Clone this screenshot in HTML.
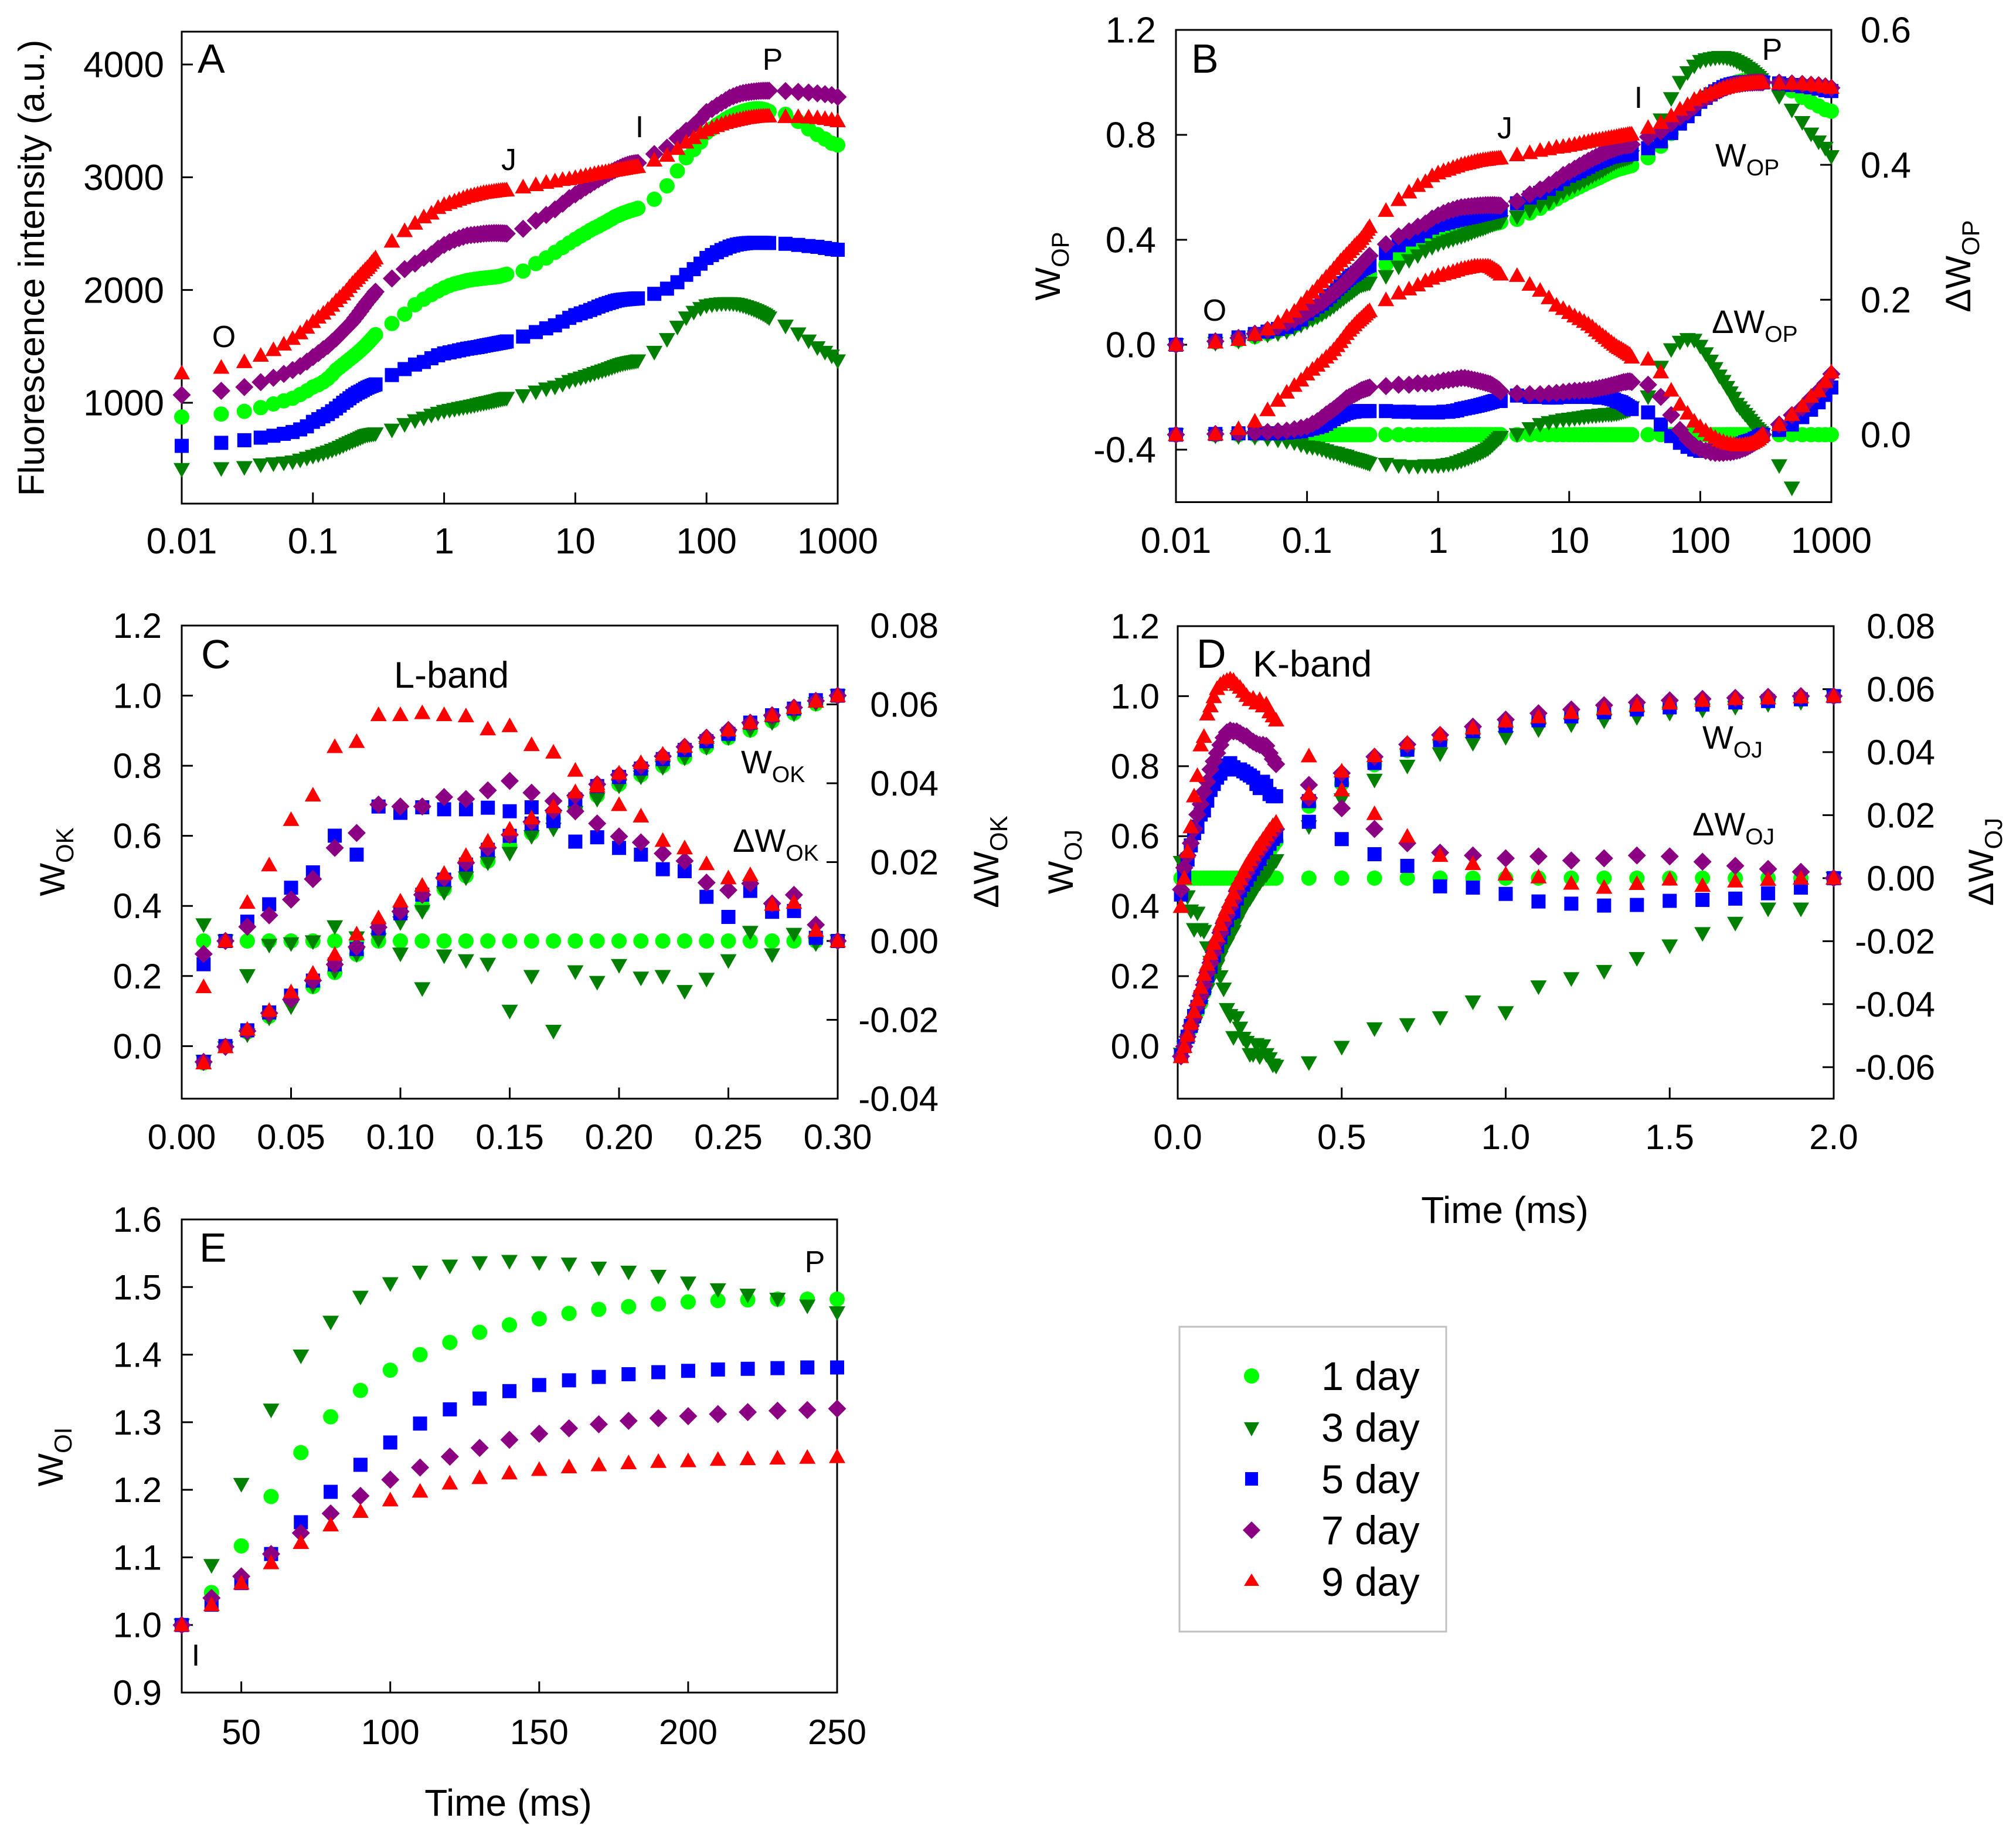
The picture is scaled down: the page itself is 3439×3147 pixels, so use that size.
<!DOCTYPE html>
<html lang="en">
<head>
<meta charset="utf-8">
<title>Chlorophyll fluorescence transients</title>
<style>
html,body{margin:0;padding:0;background:#fff;}
svg{display:block;}
text{font-family:"Liberation Sans",Arial,sans-serif;fill:#000;}
</style>
</head>
<body>
<svg id="figure" xmlns="http://www.w3.org/2000/svg" width="3439" height="3147" viewBox="0 0 3439 3147">
<rect x="0" y="0" width="3439" height="3147" fill="#fff"/>
<g id="plots"></g>

<g>
<text x="337" y="124" font-size="70">A</text>
<text x="382" y="592" font-size="52" text-anchor="middle">O</text>
<text x="868" y="290" font-size="52" text-anchor="middle">J</text>
<text x="1091" y="234" font-size="52" text-anchor="middle">I</text>
<text x="1318" y="119" font-size="52" text-anchor="middle">P</text>
<text transform="translate(75 457) rotate(-90)" font-size="62" text-anchor="middle">Fluorescence intensity (a.u.)</text>
</g>

<g>
<text x="2032" y="124" font-size="70">B</text>
<text x="2072" y="547" font-size="52" text-anchor="middle">O</text>
<text x="2567" y="236" font-size="52" text-anchor="middle">J</text>
<text x="2795" y="184" font-size="52" text-anchor="middle">I</text>
<text x="3023" y="102" font-size="52" text-anchor="middle">P</text>
<text x="2926" y="284" font-size="56">W<tspan font-size="39" dy="15">OP</tspan></text>
<text x="2920" y="568" font-size="56">ΔW<tspan font-size="39" dy="15">OP</tspan></text>
<text transform="translate(1808 454) rotate(-90)" font-size="60" text-anchor="middle">W<tspan font-size="42" dy="15">OP</tspan></text>
<text transform="translate(3361 454) rotate(-90)" font-size="60" text-anchor="middle">ΔW<tspan font-size="42" dy="15">OP</tspan></text>
</g>

<g>
<text x="343" y="1140" font-size="70">C</text>
<text x="672" y="1173" font-size="63">L-band</text>
<text x="1264" y="1319" font-size="56">W<tspan font-size="39" dy="15">OK</tspan></text>
<text x="1250" y="1453" font-size="56">ΔW<tspan font-size="39" dy="15">OK</tspan></text>
<text transform="translate(110 1470) rotate(-90)" font-size="60" text-anchor="middle">W<tspan font-size="42" dy="15">OK</tspan></text>
<text transform="translate(1703 1470) rotate(-90)" font-size="60" text-anchor="middle">ΔW<tspan font-size="42" dy="15">OK</tspan></text>
</g>

<g>
<text x="2041" y="1139" font-size="70">D</text>
<text x="2137" y="1154" font-size="63">K-band</text>
<text x="2904" y="1277" font-size="56">W<tspan font-size="39" dy="15">OJ</tspan></text>
<text x="2887" y="1425" font-size="56">ΔW<tspan font-size="39" dy="15">OJ</tspan></text>
<text transform="translate(1830 1470) rotate(-90)" font-size="60" text-anchor="middle">W<tspan font-size="42" dy="15">OJ</tspan></text>
<text transform="translate(3400 1470) rotate(-90)" font-size="60" text-anchor="middle">ΔW<tspan font-size="42" dy="15">OJ</tspan></text>
<text x="2567" y="2086" font-size="64" text-anchor="middle">Time (ms)</text>
</g>

<g>
<text x="340" y="2152" font-size="70">E</text>
<text x="1390" y="2170" font-size="52" text-anchor="middle">P</text>
<text x="334" y="2841" font-size="52" text-anchor="middle">I</text>
<text transform="translate(107 2485) rotate(-90)" font-size="60" text-anchor="middle">W<tspan font-size="42" dy="15">OI</tspan></text>
<text x="867" y="3097" font-size="64" text-anchor="middle">Time (ms)</text>
</g>

<g>
<rect x="2012" y="2263" width="455" height="520" fill="#fff" stroke="#c0c0c0" stroke-width="3"/>
<g>
<circle cx="2135" cy="2347" r="13" fill="#00ff00"/>
<text x="2254" y="2371" font-size="68.5">1 day</text>
</g>
<g>
<polygon points="2122,2426 2148,2426 2135,2450" fill="#008000"/>
<text x="2254" y="2459" font-size="68.5">3 day</text>
</g>
<g>
<rect x="2124" y="2511" width="22" height="23" fill="#0000ff"/>
<text x="2254" y="2547" font-size="68.5">5 day</text>
</g>
<g>
<polygon points="2135,2595 2150,2610 2135,2625 2120,2610" fill="#8b0082"/>
<text x="2254" y="2634" font-size="68.5">7 day</text>
</g>
<g>
<polygon points="2135,2684 2148,2705 2122,2705" fill="#ff0000"/>
<text x="2254" y="2722" font-size="68.5">9 day</text>
</g>
</g>
</svg>

<script>
// ---------- shared time bases ----------
const timeLong = [
0.01,0.02,0.03,0.04,0.05,0.06,0.07,0.08,0.09,0.10,0.11,0.12,0.13,0.14,0.15,0.16,0.17,0.18,0.19,0.20,0.21,0.22,0.23,0.24,0.25,0.26,0.27,0.28,0.29,0.30,
0.4,0.5,0.6,0.7,0.8,0.9,1.0,1.1,1.2,1.3,1.4,1.5,1.6,1.7,1.8,1.9,2.0,2.1,2.2,2.3,2.4,2.5,2.6,2.7,2.8,2.9,3.0,
4,5,6,7,8,9,10,11,12,13,14,15,16,17,18,19,20,21,22,23,24,25,26,27,28,29,30,
40,50,60,70,80,90,100,110,120,130,140,150,160,170,180,190,200,210,220,230,240,250,260,270,280,290,300,
400,500,600,700,800,900,1000];
const timeOK = [0.01,0.02,0.03,0.04,0.05,0.06,0.07,0.08,0.09,0.10,0.11,0.12,0.13,0.14,0.15,0.16,0.17,0.18,0.19,0.20,0.21,0.22,0.23,0.24,0.25,0.26,0.27,0.28,0.29,0.30];
const timeOJ = [0.01,0.02,0.03,0.04,0.05,0.06,0.07,0.08,0.09,0.10,0.11,0.12,0.13,0.14,0.15,0.16,0.17,0.18,0.19,0.20,0.21,0.22,0.23,0.24,0.25,0.26,0.27,0.28,0.29,0.30,0.4,0.5,0.6,0.7,0.8,0.9,1.0,1.1,1.2,1.3,1.4,1.5,1.6,1.7,1.8,1.9,2.0];
const timeOI = [30,40,50,60,70,80,90,100,110,120,130,140,150,160,170,180,190,200,210,220,230,240,250];

// ---------- Panel A: fluorescence intensity ----------
const fluorDay1 = [874,900,924,957,990,1017,1040,1073,1106,1140,1160,1185,1215,1250,1289,1315,1340,1362,1385,1405,1425,1445,1465,1485,1504,1525,1545,1565,1585,1604,
1703,1786,1869,1919,1959,1992,2019,2040,2055,2065,2075,2085,2090,2095,2098,2102,2105,2108,2110,2113,2115,2118,2120,2125,2130,2135,2140,
2168,2234,2284,2334,2377,2417,2450,2480,2505,2530,2550,2566,2585,2600,2618,2632,2649,2660,2670,2680,2688,2695,2702,2708,2713,2718,2725,
2805,2924,3056,3173,3246,3312,3395,3430,3465,3490,3515,3535,3550,3565,3575,3585,3592,3598,3603,3606,3608,3608,3606,3602,3598,3590,3583,
3558,3495,3429,3379,3339,3302,3286];
const fluorDay3 = [409,416,426,449,459,466,476,492,509,525,538,552,565,579,592,606,620,634,646,658,668,678,688,698,708,713,717,720,723,725,
758,807,841,864,890,907,924,933,942,950,957,963,970,976,983,990,995,1000,1005,1010,1015,1020,1025,1030,1034,1037,1040,
1063,1096,1123,1139,1163,1189,1206,1220,1234,1248,1260,1272,1282,1292,1302,1312,1322,1330,1338,1345,1350,1355,1358,1362,1365,1368,1372,
1448,1561,1670,1753,1803,1836,1860,1868,1874,1878,1880,1880,1878,1874,1868,1860,1852,1844,1836,1826,1817,1808,1798,1788,1778,1766,1753,
1680,1611,1548,1488,1448,1415,1372];
const fluorDay5 = [618,645,668,691,708,725,741,764,791,831,855,880,900,925,950,975,1000,1020,1040,1060,1075,1090,1100,1112,1125,1135,1143,1150,1157,1163,
1246,1299,1339,1362,1395,1421,1438,1447,1456,1465,1473,1480,1485,1490,1494,1499,1505,1510,1514,1518,1522,1526,1530,1533,1537,1540,1544,
1587,1627,1660,1687,1720,1753,1777,1793,1808,1823,1838,1853,1865,1876,1885,1893,1902,1908,1912,1915,1917,1919,1921,1922,1924,1925,1926,
1966,2012,2069,2135,2185,2234,2284,2310,2335,2355,2370,2385,2395,2403,2408,2412,2415,2417,2418,2419,2419,2419,2419,2418,2418,2417,2417,
2410,2400,2390,2383,2373,2363,2357];
const fluorDay7 = [1070,1106,1139,1183,1222,1256,1290,1325,1365,1405,1440,1475,1505,1540,1571,1604,1635,1665,1692,1720,1752,1782,1812,1842,1870,1895,1918,1940,1962,1985,
2102,2185,2234,2284,2317,2367,2400,2425,2445,2460,2472,2483,2487,2490,2493,2496,2500,2502,2503,2504,2505,2505,2505,2504,2503,2502,2500,
2543,2616,2666,2715,2765,2815,2848,2880,2910,2935,2960,2981,3000,3018,3035,3050,3063,3075,3085,3095,3103,3110,3116,3120,3123,3125,3127,
3206,3262,3345,3412,3461,3518,3578,3605,3635,3660,3683,3705,3718,3730,3740,3747,3751,3755,3758,3761,3763,3765,3766,3767,3767,3767,3767,
3764,3757,3751,3744,3737,3728,3712];
const fluorDay9 = [1265,1315,1365,1421,1471,1521,1571,1620,1670,1720,1760,1795,1830,1865,1905,1935,1965,1995,2030,2060,2085,2110,2135,2158,2180,2200,2220,2245,2265,2285,
2433,2526,2592,2649,2682,2732,2758,2775,2790,2805,2818,2831,2838,2845,2852,2858,2865,2868,2871,2874,2877,2880,2882,2884,2886,2887,2888,
2914,2934,2954,2967,2980,2987,2997,3007,3016,3024,3032,3040,3045,3050,3055,3059,3063,3067,3071,3075,3079,3083,3086,3089,3092,3094,3096,
3152,3195,3255,3312,3351,3395,3421,3440,3458,3472,3485,3495,3503,3510,3516,3522,3528,3531,3534,3537,3539,3541,3542,3543,3543,3544,3544,
3538,3538,3534,3528,3521,3511,3501];

// ---------- Panel B: WOP and delta WOP ----------
const wopDay1 = [0,.01,.018,.031,.043,.053,.061,.073,.086,.098,.105,.114,.125,.138,.152,.162,.171,.18,.188,.196,.204,.211,.218,.226,.233,.241,.248,.255,.262,.269,
.306,.337,.367,.386,.401,.413,.423,.43,.436,.44,.443,.447,.449,.451,.452,.453,.454,.456,.456,.457,.458,.459,.46,.462,.464,.465,.467,
.478,.502,.52,.539,.555,.57,.582,.593,.602,.611,.619,.625,.632,.637,.644,.649,.655,.659,.663,.667,.67,.672,.675,.677,.679,.681,.683,
.713,.757,.805,.849,.876,.9,.931,.944,.956,.966,.975,.982,.988,.993,.997,1.001,1.003,1.006,1.007,1.008,1.009,1.009,1.008,1.007,1.006,1.003,1,
.991,.968,.943,.925,.91,.896,.89];
const wopDay3 = [0,.005,.013,.03,.037,.042,.05,.062,.074,.086,.096,.106,.116,.126,.136,.146,.157,.167,.176,.185,.193,.2,.208,.215,.223,.226,.229,.231,.234,.235,
.26,.296,.321,.339,.358,.371,.383,.39,.396,.402,.408,.412,.417,.422,.427,.432,.436,.44,.443,.447,.451,.455,.458,.462,.465,.467,.469,
.487,.511,.531,.543,.561,.58,.593,.603,.614,.624,.633,.642,.65,.657,.664,.672,.679,.685,.691,.696,.7,.704,.706,.709,.711,.714,.717,
.773,.857,.938,1,1.037,1.062,1.08,1.086,1.09,1.093,1.095,1.095,1.093,1.09,1.086,1.08,1.074,1.068,1.062,1.054,1.048,1.041,1.033,1.026,1.019,1.01,1,
.946,.894,.847,.803,.773,.749,.717];
const wopDay5 = [0,.015,.028,.041,.05,.06,.068,.081,.096,.118,.132,.146,.157,.171,.185,.199,.213,.224,.235,.246,.254,.263,.268,.275,.282,.288,.292,.296,.3,.303,
.349,.379,.401,.414,.432,.446,.456,.461,.466,.471,.475,.479,.482,.485,.487,.49,.493,.496,.498,.5,.503,.505,.507,.509,.511,.513,.515,
.539,.561,.579,.594,.613,.631,.644,.653,.661,.67,.678,.687,.693,.699,.704,.709,.714,.717,.719,.721,.722,.723,.724,.725,.726,.727,.727,
.749,.775,.807,.843,.871,.898,.926,.941,.954,.966,.974,.982,.988,.992,.995,.997,.999,1,1.001,1.001,1.001,1.001,1.001,1.001,1.001,1,1,
.996,.99,.985,.981,.976,.97,.967];
const wopDay7 = [0,.013,.026,.042,.056,.069,.082,.095,.109,.124,.137,.15,.161,.174,.186,.198,.209,.221,.231,.241,.253,.264,.275,.286,.297,.306,.314,.323,.331,.339,
.383,.413,.432,.45,.462,.481,.493,.502,.51,.515,.52,.524,.525,.527,.528,.529,.53,.531,.531,.532,.532,.532,.532,.532,.531,.531,.53,
.546,.573,.592,.61,.628,.647,.659,.671,.682,.692,.701,.709,.716,.722,.729,.734,.739,.743,.747,.751,.754,.756,.759,.76,.761,.762,.763,
.792,.813,.844,.868,.887,.908,.93,.94,.951,.96,.969,.977,.982,.986,.99,.993,.994,.996,.997,.998,.999,.999,1,1,1,1,1,
.999,.996,.994,.991,.989,.985,.979];
const wopDay9 = [0,.01,.02,.04,.06,.085,.108,.128,.155,.18,.2,.22,.24,.258,.273,.29,.305,.32,.332,.344,.355,.366,.377,.386,.394,.405,.416,.428,.44,.45,
.512,.553,.582,.607,.622,.644,.655,.663,.669,.676,.681,.687,.69,.693,.696,.699,.702,.703,.705,.706,.707,.709,.71,.71,.711,.712,.712,
.724,.732,.741,.747,.753,.756,.76,.764,.768,.772,.775,.779,.781,.783,.785,.787,.789,.791,.792,.794,.796,.798,.799,.8,.802,.803,.803,
.828,.847,.873,.898,.915,.935,.946,.954,.962,.968,.974,.978,.982,.985,.988,.99,.993,.994,.996,.997,.998,.999,.999,1,1,1,1,
.997,.997,.996,.993,.99,.985,.981];
const dWopDay1 = [0,0,0,0,0,0,0,0,0,0,0,0,0,0,0,0,0,0,0,0,0,0,0,0,0,0,0,0,0,0,
0,0,0,0,0,0,0,0,0,0,0,0,0,0,0,0,0,0,0,0,0,0,0,0,0,0,0,
0,0,0,0,0,0,0,0,0,0,0,0,0,0,0,0,0,0,0,0,0,0,0,0,0,0,0,
0,0,0,0,0,0,0,0,0,0,0,0,0,0,0,0,0,0,0,0,0,0,0,0,0,0,0,
0,0,0,0,0,0,0];
const dWopDay3 = [0,-.002,-.003,-.004,-.006,-.008,-.01,-.012,-.015,-.018,-.019,-.02,-.022,-.024,-.026,-.027,-.028,-.03,-.031,-.032,-.034,-.035,-.036,-.037,-.038,-.039,-.04,-.041,-.042,-.043,
-.044,-.046,-.047,-.047,-.046,-.046,-.046,-.045,-.044,-.043,-.041,-.039,-.037,-.035,-.033,-.031,-.029,-.027,-.025,-.023,-.021,-.018,-.015,-.012,-.009,-.006,-.004,
0,.009,.015,.018,.02,.022,.023,.024,.025,.026,.027,.028,.028,.029,.029,.03,.03,.03,.031,.031,.032,.033,.034,.035,.036,.037,.04,
.056,.1,.126,.137,.141,.14,.131,.12,.109,.098,.087,.079,.07,.062,.054,.045,.04,.035,.03,.026,.021,.017,.013,.009,.006,.003,0,
-.046,-.079,-.105,-.122,-.137,-.147,-.173];
const dWopDay5 = [0,.001,.002,.002,.002,.002,.003,.004,.005,.007,.009,.011,.013,.016,.02,.023,.026,.028,.03,.032,.033,.034,.034,.035,.035,.035,.035,.035,.035,.035,
.035,.034,.034,.033,.033,.033,.033,.034,.034,.035,.036,.038,.039,.04,.041,.042,.043,.044,.045,.046,.047,.048,.049,.05,.05,.05,.05,
.058,.056,.056,.055,.055,.056,.056,.056,.056,.056,.056,.056,.056,.055,.055,.055,.054,.053,.052,.05,.049,.048,.046,.044,.042,.04,.038,
.033,.015,-.002,-.012,-.018,-.022,-.024,-.024,-.023,-.022,-.021,-.02,-.019,-.018,-.017,-.016,-.015,-.013,-.011,-.01,-.009,-.008,-.006,-.005,-.003,-.002,0,
.007,.015,.026,.037,.048,.059,.07];
const dWopDay7 = [0,.001,.002,.003,.004,.005,.006,.008,.01,.012,.016,.02,.025,.03,.034,.038,.042,.046,.05,.054,.056,.058,.06,.062,.064,.066,.067,.068,.069,.07,
.072,.074,.074,.076,.076,.076,.078,.08,.081,.082,.083,.084,.084,.083,.082,.081,.08,.079,.078,.077,.076,.075,.073,.071,.069,.067,.064,
.061,.06,.06,.061,.062,.063,.064,.065,.065,.066,.066,.067,.068,.069,.07,.071,.072,.073,.074,.075,.076,.077,.078,.078,.079,.079,.078,
.074,.056,.029,.007,-.007,-.016,-.021,-.024,-.026,-.027,-.027,-.027,-.026,-.026,-.025,-.024,-.023,-.021,-.02,-.018,-.016,-.014,-.012,-.01,-.007,-.004,0,
.015,.029,.04,.054,.065,.076,.09];
const dWopDay9 = [0,.001,.009,.02,.037,.051,.063,.073,.081,.09,.097,.103,.109,.115,.12,.126,.132,.138,.144,.15,.155,.159,.163,.167,.17,.173,.176,.179,.182,.184,
.2,.21,.216,.222,.228,.232,.236,.238,.24,.242,.244,.246,.247,.248,.249,.25,.25,.25,.25,.25,.25,.249,.247,.245,.243,.241,.238,
.236,.223,.214,.203,.192,.187,.181,.176,.172,.168,.164,.16,.155,.151,.147,.144,.14,.137,.134,.131,.129,.127,.125,.123,.121,.119,.115,
.112,.093,.066,.045,.032,.02,.012,.006,0,-.004,-.008,-.01,-.012,-.013,-.014,-.015,-.015,-.015,-.014,-.014,-.013,-.012,-.01,-.008,-.006,-.003,0,
.015,.03,.043,.057,.065,.079,.093];

// ---------- Panel C: WOK and delta WOK ----------
const wokDay1 = [-.048,0,.04,.085,.135,.17,.21,.262,.32,.38,.40,.448,.486,.528,.571,.608,.65,.678,.715,.747,.774,.80,.824,.854,.88,.902,.928,.95,.977,1];
const wokDay3 = [-.043,-.005,.032,.08,.112,.171,.213,.261,.304,.352,.384,.438,.48,.523,.55,.598,.619,.667,.704,.742,.768,.795,.822,.852,.88,.902,.923,.948,.977,1];
const wokDay5 = [-.045,0,.045,.096,.144,.187,.233,.277,.336,.379,.432,.475,.518,.56,.6,.635,.642,.704,.742,.768,.792,.819,.845,.87,.891,.923,.944,.963,.987,1];
const wokDay7 = [-.045,-.002,.043,.094,.133,.187,.233,.283,.339,.384,.432,.48,.523,.566,.603,.64,.672,.715,.747,.774,.80,.827,.854,.88,.902,.923,.944,.966,.985,1];
const wokDay9 = [-.048,-.002,.048,.102,.155,.208,.262,.32,.366,.414,.459,.493,.544,.585,.619,.651,.683,.726,.749,.779,.809,.833,.856,.881,.902,.923,.944,.966,.984,1];
const dWokDay1 = [0,0,0,0,0,0,0,0,0,0,0,0,0,0,0,0,0,0,0,0,0,0,0,0,0,0,0,0,0,0];
const dWokDay3 = [.0041,0,-.0088,-.0011,-.0007,-.0002,.0036,.0008,.0003,-.0033,-.0121,-.0038,-.005,-.0059,-.0178,-.009,-.0229,-.0078,-.0105,-.0062,-.0094,-.009,-.0128,-.0097,-.005,.0022,-.0035,.0017,-.0007,0];
const dWokDay5 = [-.0059,0,.0049,.0093,.0135,.0174,.0267,.0219,.0341,.0325,.0339,.0334,.0334,.0338,.0329,.0339,.0308,.0252,.0263,.0236,.0219,.0182,.0177,.0112,.0061,.0127,.0074,.0076,.0008,0];
const dWokDay7 = [-.0033,0,.0036,.0065,.0105,.0157,.0236,.0274,.0346,.0341,.0341,.0365,.036,.0382,.0406,.0376,.0355,.0329,.0298,.0265,.025,.0222,.0203,.0148,.0129,.0146,.0095,.0117,.0041,0];
const dWokDay9 = [-.0116,0,.0098,.0193,.0308,.037,.0493,.0506,.0574,.0574,.0579,.0574,.0571,.0538,.0546,.0498,.0479,.0433,.0393,.0346,.0317,.0255,.0236,.0196,.016,.0168,.0093,.0098,.0027,0];

// ---------- Panel D: WOJ and delta WOJ ----------
const wojDay1 = [-.028,0,.023,.05,.079,.099,.123,.153,.187,.222,.234,.262,.284,.309,.334,.356,.38,.397,.418,.437,.453,.468,.482,.5,.515,.528,.543,.556,.572,.585,
.686,.75,.804,.845,.871,.894,.913,.928,.94,.951,.96,.968,.975,.982,.987,.993,1];
const wojDay3 = [-.023,-.003,.017,.042,.06,.091,.113,.138,.161,.187,.204,.232,.254,.277,.292,.317,.328,.354,.373,.393,.407,.421,.436,.452,.466,.478,.489,.502,.518,.53,
.627,.704,.76,.80,.835,.865,.882,.904,.918,.929,.939,.951,.96,.968,.976,.982,1];
const wojDay5 = [-.027,0,.027,.058,.086,.112,.14,.166,.202,.227,.259,.285,.311,.336,.36,.381,.385,.422,.445,.461,.475,.491,.507,.522,.535,.554,.566,.578,.592,.60,
.70,.76,.809,.847,.874,.90,.915,.931,.942,.954,.962,.968,.976,.982,.986,.991,1];
const wojDay7 = [-.029,-.001,.027,.058,.082,.116,.144,.175,.21,.238,.268,.298,.324,.351,.374,.397,.417,.443,.463,.48,.496,.513,.529,.546,.559,.572,.585,.599,.611,.62,
.709,.78,.827,.862,.889,.913,.933,.951,.962,.974,.982,.988,.992,.995,.998,1,1];
const wojDay9 = [-.03,-.001,.031,.065,.099,.133,.168,.205,.234,.265,.294,.316,.348,.374,.396,.417,.437,.465,.479,.499,.518,.533,.548,.564,.577,.591,.604,.618,.63,.64,
.721,.786,.83,.866,.892,.909,.929,.941,.953,.965,.974,.98,.988,.993,.995,.998,1];
const dWojDay1 = [0,0,0,0,0,0,0,0,0,0,0,0,0,0,0,0,0,0,0,0,0,0,0,0,0,0,0,0,0,0,0,0,0,0,0,0,0,0,0,0,0,0,0,0,0,0,0];
const dWojDay3 = [.005,.0013,-.0059,-.0104,-.0163,-.0111,-.0163,-.0169,-.0221,-.0267,-.03,-.028,-.0313,-.0352,-.0417,-.0436,-.0506,-.0443,-.0476,-.0508,-.0521,-.056,-.056,-.0528,-.0567,-.0532,-.056,-.0573,-.0593,-.0597,
-.0586,-.0537,-.0478,-.0465,-.0443,-.0393,-.0427,-.0345,-.0319,-.0296,-.0255,-.0215,-.0176,-.0143,-.0098,-.0098,0];
const dWojDay5 = [-.0052,.0007,.0059,.0104,.0143,.0163,.0202,.0215,.0246,.028,.0299,.0319,.0332,.0345,.0358,.0365,.0352,.0345,.0345,.0339,.0332,.0326,.0319,.0299,.0286,.0306,.0293,.0267,.026,.026,
.0179,.0124,.0076,.0039,-.0026,-.003,-.005,-.0074,-.0081,-.0087,-.0085,-.0072,-.0069,-.0065,-.0048,-.003,0];
const dWojDay7 = [-.0036,.0033,.0072,.0111,.0156,.0202,.0235,.0274,.0306,.0345,.0371,.0397,.0423,.0446,.0463,.0469,.0466,.0466,.046,.0453,.045,.044,.0433,.0427,.0423,.0423,.042,.0397,.0378,.0362,
.0296,.0222,.0156,.0111,.0081,.0072,.0063,.0069,.0056,.0063,.0072,.0069,.0052,.0039,.0029,.002,0];
const dWojDay9 = [-.009,0,.0085,.0163,.0261,.0326,.0423,.045,.0521,.0547,.0576,.0602,.0615,.0623,.0628,.0632,.0628,.0615,.0606,.0593,.058,.0567,.0571,.0556,.0567,.0547,.0553,.0528,.0515,.0502,
.0388,.028,.0205,.0133,.0072,.0046,.0013,.0004,-.0016,-.0029,-.0017,-.0003,-.0023,-.0009,-.0004,0,0];

// ---------- Panel E: WOI ----------
const woiDay1 = [1.0,1.048,1.117,1.19,1.255,1.308,1.347,1.377,1.4,1.418,1.433,1.444,1.453,1.461,1.467,1.471,1.475,1.478,1.48,1.481,1.482,1.482,1.482];
const woiDay3 = [1.0,1.088,1.208,1.318,1.398,1.448,1.485,1.505,1.522,1.531,1.536,1.538,1.536,1.534,1.528,1.522,1.516,1.506,1.496,1.488,1.482,1.472,1.462];
const woiDay5 = [1.0,1.03,1.062,1.105,1.152,1.197,1.237,1.27,1.298,1.319,1.335,1.346,1.355,1.362,1.367,1.371,1.374,1.376,1.378,1.379,1.38,1.381,1.381];
const woiDay7 = [1.0,1.04,1.072,1.105,1.136,1.165,1.191,1.215,1.233,1.249,1.262,1.274,1.283,1.291,1.297,1.302,1.306,1.309,1.312,1.315,1.317,1.318,1.32];
const woiDay9 = [1.0,1.03,1.062,1.092,1.122,1.148,1.168,1.185,1.198,1.21,1.218,1.225,1.23,1.234,1.237,1.24,1.242,1.243,1.245,1.246,1.247,1.248,1.249];

// ---------- tick values and labels ----------
const ticksALeft = [1000,2000,3000,4000];
const ticksALeftLabels = ['1000','2000','3000','4000'];
const ticksLogX = [0.01,0.1,1,10,100,1000];
const ticksLogXLabels = ['0.01','0.1','1','10','100','1000'];
const ticksBLeft = [-0.4,0,0.4,0.8,1.2];
const ticksBLeftLabels = ['-0.4','0.0','0.4','0.8','1.2'];
const ticksBRight = [0,0.2,0.4,0.6];
const ticksBRightLabels = ['0.0','0.2','0.4','0.6'];
const ticksWLeft = [0,0.2,0.4,0.6,0.8,1.0,1.2];
const ticksWLeftLabels = ['0.0','0.2','0.4','0.6','0.8','1.0','1.2'];
const ticksCRight = [-0.04,-0.02,0,0.02,0.04,0.06,0.08];
const ticksCRightLabels = ['-0.04','-0.02','0.00','0.02','0.04','0.06','0.08'];
const ticksCX = [0,0.05,0.10,0.15,0.20,0.25,0.30];
const ticksCXLabels = ['0.00','0.05','0.10','0.15','0.20','0.25','0.30'];
const ticksDRight = [-0.06,-0.04,-0.02,0,0.02,0.04,0.06,0.08];
const ticksDRightLabels = ['-0.06','-0.04','-0.02','0.00','0.02','0.04','0.06','0.08'];
const ticksDX = [0,0.5,1.0,1.5,2.0];
const ticksDXLabels = ['0.0','0.5','1.0','1.5','2.0'];
const ticksELeft = [0.9,1.0,1.1,1.2,1.3,1.4,1.5,1.6];
const ticksELeftLabels = ['0.9','1.0','1.1','1.2','1.3','1.4','1.5','1.6'];
const ticksEX = [50,100,150,200,250];
const ticksEXLabels = ['50','100','150','200','250'];

// ---------- rendering ----------
const NS = 'http://www.w3.org/2000/svg';
const plotsRoot = document.getElementById('plots');
const dayNames = ['1-day','3-day','5-day','7-day','9-day'];
const dayColors = ['#00ff00','#008000','#0000ff','#8b0082','#ff0000'];
const dayShapes = ['circle','down','square','diamond','up'];

function linearScale(d0, d1, r0, r1) {
  return function (v) { return r0 + (v - d0) * (r1 - r0) / (d1 - d0); };
}
function logScale(d0, d1, r0, r1) {
  const a = Math.log10(d0), b = Math.log10(d1);
  return function (v) { return r0 + (Math.log10(v) - a) * (r1 - r0) / (b - a); };
}
function makeGroup(parent, name) {
  const g = document.createElementNS(NS, 'g');
  
  
  parent.appendChild(g);
  return g;
}
function tickLine(parent, x1, y1, x2, y2, name) {
  const l = document.createElementNS(NS, 'line');
  l.setAttribute('x1', x1);
  l.setAttribute('y1', y1);
  l.setAttribute('x2', x2);
  l.setAttribute('y2', y2);
  l.setAttribute('stroke', '#000');
  l.setAttribute('stroke-width', '3');
  
  
  parent.appendChild(l);
}
function tickText(parent, x, y, str, anchor, size, name) {
  const t = document.createElementNS(NS, 'text');
  t.setAttribute('x', x);
  t.setAttribute('y', y);
  t.setAttribute('text-anchor', anchor);
  t.setAttribute('font-size', size);
  
  
  t.textContent = str;
  parent.appendChild(t);
}
function marker(parent, shape, cx, cy, color, name) {
  let el;
  if (shape === 'circle') {
    el = document.createElementNS(NS, 'circle');
    el.setAttribute('cx', cx);
    el.setAttribute('cy', cy);
    el.setAttribute('r', 13);
  } else if (shape === 'square') {
    el = document.createElementNS(NS, 'rect');
    el.setAttribute('x', cx - 12);
    el.setAttribute('y', cy - 12);
    el.setAttribute('width', 24);
    el.setAttribute('height', 24);
  } else {
    el = document.createElementNS(NS, 'polygon');
    let pts;
    if (shape === 'diamond') pts = [[0,-15.5],[15.5,0],[0,15.5],[-15.5,0]];
    else if (shape === 'up') pts = [[0,-14],[14,11],[-14,11]];
    else pts = [[0,14],[14,-11],[-14,-11]];
    el.setAttribute('points', pts.map(function (p) { return (cx + p[0]) + ',' + (cy + p[1]); }).join(' '));
  }
  el.setAttribute('fill', color);
  
  
  parent.appendChild(el);
}
function drawPanel(cfg) {
  const root = makeGroup(plotsRoot, 'panel-' + cfg.id);
  const frame = document.createElementNS(NS, 'rect');
  frame.setAttribute('x', cfg.left);
  frame.setAttribute('y', cfg.top);
  frame.setAttribute('width', cfg.right - cfg.left);
  frame.setAttribute('height', cfg.bottom - cfg.top);
  frame.setAttribute('fill', 'none');
  frame.setAttribute('stroke', '#000');
  frame.setAttribute('stroke-width', '3');
  
  
  root.appendChild(frame);

  const xFn = cfg.xLog ? logScale(cfg.xDomain[0], cfg.xDomain[1], cfg.left, cfg.right)
                       : linearScale(cfg.xDomain[0], cfg.xDomain[1], cfg.left, cfg.right);
  const yLeft = linearScale(cfg.yLeft[0], cfg.yLeft[1], cfg.bottom, cfg.top);
  const yRight = cfg.yRight ? linearScale(cfg.yRight[0], cfg.yRight[1], cfg.bottom, cfg.top) : null;

  const axes = makeGroup(root, 'panel-' + cfg.id + '-axes');
  cfg.xTicks.forEach(function (v, i) {
    tickLine(axes, xFn(v), cfg.bottom, xFn(v), cfg.bottom - 19, 'x-tick');
    tickText(axes, xFn(v), cfg.xLabelY, cfg.xLabels[i], 'middle', cfg.fontSize, 'x-tick-label');
  });
  cfg.leftTicks.forEach(function (v, i) {
    tickLine(axes, cfg.left, yLeft(v), cfg.left + 19, yLeft(v), 'y-left-tick');
    tickText(axes, cfg.leftLabelX, yLeft(v) + cfg.fontSize * 0.35, cfg.leftLabels[i], 'end', cfg.fontSize, 'y-left-tick-label');
  });
  if (yRight) {
    cfg.rightTicks.forEach(function (v, i) {
      tickLine(axes, cfg.right, yRight(v), cfg.right - 19, yRight(v), 'y-right-tick');
      tickText(axes, cfg.rightLabelX, yRight(v) + cfg.fontSize * 0.35, cfg.rightLabels[i], 'end', cfg.fontSize, 'y-right-tick-label');
    });
  }

  cfg.series.forEach(function (s, dayIndex) {
    const g = makeGroup(root, 'panel-' + cfg.id + '-series-' + dayNames[dayIndex]);
    const color = dayColors[dayIndex];
    const shape = dayShapes[dayIndex];
    const mk = 'point-' + dayNames[dayIndex];
    s.left.forEach(function (v, i) {
      if (v < cfg.yLeft[0] || v > cfg.yLeft[1]) return;
      marker(g, shape, xFn(cfg.times[i]), yLeft(v), color, mk);
    });
    if (s.right) {
      s.right.forEach(function (v, i) {
        if (v < cfg.yRight[0] || v > cfg.yRight[1]) return;
        marker(g, shape, xFn(cfg.times[i]), yRight(v), color, mk + '-delta');
      });
    }
  });
}

drawPanel({
  id: 'a', left: 310, right: 1429, top: 54, bottom: 859,
  xLog: true, xDomain: [0.01, 1000], yLeft: [106, 4291],
  times: timeLong, xTicks: ticksLogX, xLabels: ticksLogXLabels, xLabelY: 944,
  leftTicks: ticksALeft, leftLabels: ticksALeftLabels, leftLabelX: 280, fontSize: 62,
  series: [{left: fluorDay1},{left: fluorDay3},{left: fluorDay5},{left: fluorDay7},{left: fluorDay9}]
});
drawPanel({
  id: 'b', left: 2006, right: 3124, top: 51, bottom: 856.5,
  xLog: true, xDomain: [0.01, 1000], yLeft: [-0.6, 1.2], yRight: [-0.1, 0.6],
  times: timeLong, xTicks: ticksLogX, xLabels: ticksLogXLabels, xLabelY: 943,
  leftTicks: ticksBLeft, leftLabels: ticksBLeftLabels, leftLabelX: 1972,
  rightTicks: ticksBRight, rightLabels: ticksBRightLabels, rightLabelX: 3260, fontSize: 62,
  series: [{left: wopDay1, right: dWopDay1},{left: wopDay3, right: dWopDay3},{left: wopDay5, right: dWopDay5},{left: wopDay7, right: dWopDay7},{left: wopDay9, right: dWopDay9}]
});
drawPanel({
  id: 'c', left: 310, right: 1429, top: 1067, bottom: 1874,
  xLog: false, xDomain: [0, 0.30], yLeft: [-0.15, 1.2], yRight: [-0.04, 0.08],
  times: timeOK, xTicks: ticksCX, xLabels: ticksCXLabels, xLabelY: 1960,
  leftTicks: ticksWLeft, leftLabels: ticksWLeftLabels, leftLabelX: 276,
  rightTicks: ticksCRight, rightLabels: ticksCRightLabels, rightLabelX: 1601, fontSize: 60,
  series: [{left: wokDay1, right: dWokDay1},{left: wokDay3, right: dWokDay3},{left: wokDay5, right: dWokDay5},{left: wokDay7, right: dWokDay7},{left: wokDay9, right: dWokDay9}]
});
drawPanel({
  id: 'd', left: 2009, right: 3128, top: 1068, bottom: 1874,
  xLog: false, xDomain: [0, 2.0], yLeft: [-0.15, 1.2], yRight: [-0.07, 0.08],
  times: timeOJ, xTicks: ticksDX, xLabels: ticksDXLabels, xLabelY: 1960,
  leftTicks: ticksWLeft, leftLabels: ticksWLeftLabels, leftLabelX: 1978,
  rightTicks: ticksDRight, rightLabels: ticksDRightLabels, rightLabelX: 3301, fontSize: 60,
  series: [{left: wojDay1, right: dWojDay1},{left: wojDay3, right: dWojDay3},{left: wojDay5, right: dWojDay5},{left: wojDay7, right: dWojDay7},{left: wojDay9, right: dWojDay9}]
});
drawPanel({
  id: 'e', left: 310, right: 1428, top: 2080, bottom: 2887,
  xLog: false, xDomain: [30, 250], yLeft: [0.9, 1.6],
  times: timeOI, xTicks: ticksEX, xLabels: ticksEXLabels, xLabelY: 2975,
  leftTicks: ticksELeft, leftLabels: ticksELeftLabels, leftLabelX: 276, fontSize: 60,
  series: [{left: woiDay1},{left: woiDay3},{left: woiDay5},{left: woiDay7},{left: woiDay9}]
});
</script>
</body>
</html>
